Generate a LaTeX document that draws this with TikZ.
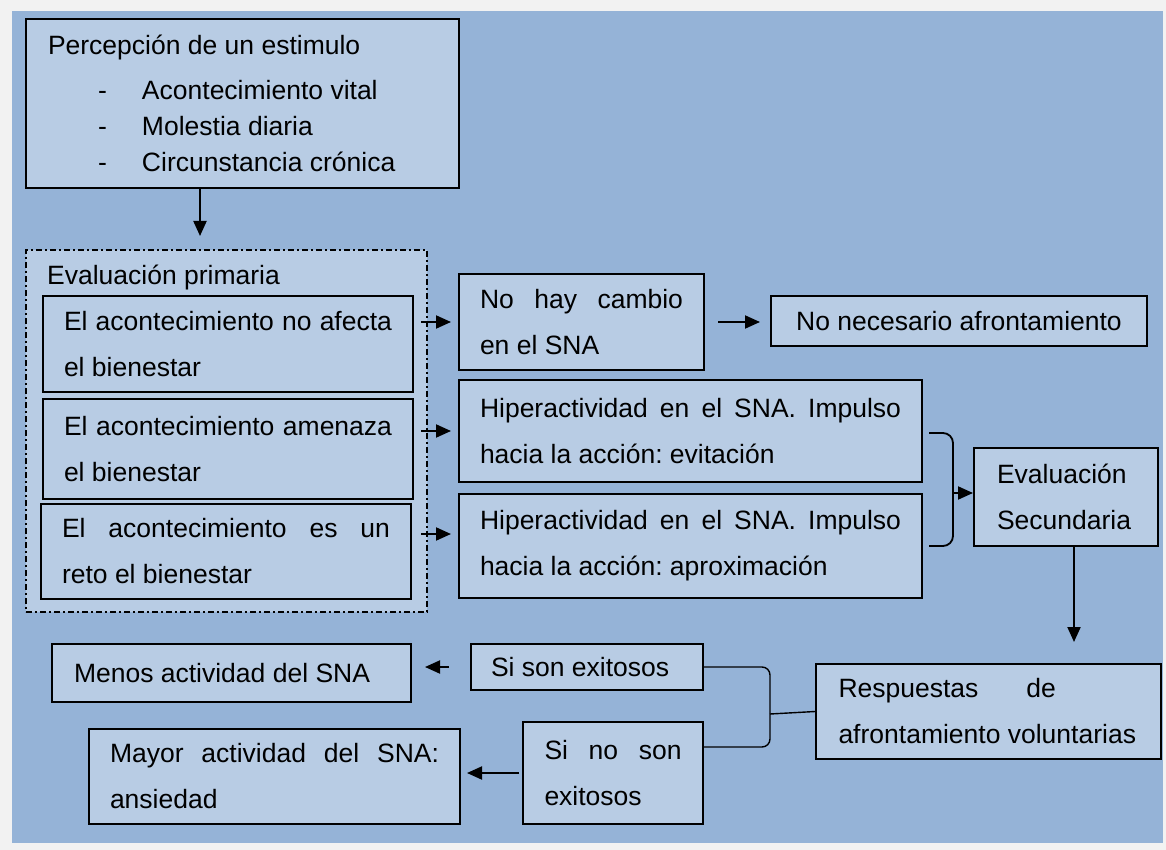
\documentclass[tikz,border=0pt]{standalone}
\usepackage{fontspec}
\setmainfont{Liberation Sans}
\usetikzlibrary{arrows.meta,calc}
\setlength{\parindent}{0pt}

\definecolor{fondoazul}{HTML}{95B3D7}
\definecolor{cajaazul}{HTML}{B8CCE4}
\definecolor{bordegris}{HTML}{F2F2F2}

\newcommand{\jus}[1]{{\spaceskip=0pt\xspaceskip=0pt\makebox[\hsize][s]{#1}}}
\newcommand{\guion}[1]{\makebox[94pt][l]{\hspace*{50pt}-}#1}

\begin{document}
\begin{tikzpicture}[x=1pt,y=-1pt,
	caja/.style={draw, line width=2pt, fill=cajaazul, inner sep=0pt, anchor=north west, align=flush left, font=\fontsize{26.5}{46}\selectfont\frenchspacing},
	grupo/.style={draw, line width=1.5pt, fill=cajaazul, dash pattern=on 6pt off 3pt on 2pt off 3pt, inner sep=0pt, anchor=north west},
	flecha/.style={-{Triangle[length=15pt,width=13pt]}, line width=2pt},
	llave/.style={line width=1.8pt, rounded corners=10pt}]
	\useasboundingbox (0,0) rectangle (1166,850);
	\fill[bordegris] (0,0) rectangle (1166,850);
	\fill[fondoazul] (12,11) rectangle (1163,843);
	
	\node (perc) [caja, minimum width=433pt, minimum height=169pt, text width=389pt, font=\fontsize{26.5}{36}\selectfont] at (25,18) {Percepción de un estimulo\\[9pt]\guion{Acontecimiento vital}\\\guion{Molestia diaria}\\\guion{Circunstancia crónica}};
	
	\node (primaria) [grupo, minimum width=401pt, minimum height=362pt] at (25,249) {};
	\node (tituloprim) [anchor=base west, inner sep=0pt, font=\fontsize{26.5}{46}\selectfont] at (47,284) {Evaluación primaria};
	\node (ev1) [caja, minimum width=370pt, minimum height=96pt, text width=328pt] at (42,295) {\jus{El acontecimiento no afecta}\\el bienestar};
	\node (ev2) [caja, minimum width=370pt, minimum height=100pt, text width=328pt] at (42,398) {\jus{El acontecimiento amenaza}\\el bienestar};
	\node (ev3) [caja, minimum width=370pt, minimum height=95pt, text width=328pt] at (40,503) {\jus{El acontecimiento es un}\\reto el bienestar};
	
	\node (nohay) [caja, minimum width=245pt, minimum height=96pt, text width=203pt] at (458,273) {\jus{No hay cambio}\\en el SNA};
	\node (nonec) [caja, align=center, minimum width=376pt, minimum height=50pt] at (770,295) {No necesario afrontamiento};
	\node (hip1) [caja, minimum width=463pt, minimum height=102pt, text width=421pt] at (458,379) {\jus{Hiperactividad en el SNA. Impulso}\\hacia la acción: evitación};
	\node (hip2) [caja, minimum width=463pt, minimum height=104pt, text width=421pt] at (458,493) {\jus{Hiperactividad en el SNA. Impulso}\\hacia la acción: aproximación};
	\node (eval2) [caja, minimum width=184pt, minimum height=98pt, text width=138pt] at (973,447) {Evaluación\\Secundaria};
	\node (resp) [caja, minimum width=345pt, minimum height=95pt, text width=300pt] at (815,663) {Respuestas\hspace{48pt}de\\afrontamiento voluntarias};
	
	\node (sison) [caja, minimum width=232pt, minimum height=46pt, text width=192pt] at (470,643) {Si son exitosos};
	\node (menos) [caja, minimum width=359pt, minimum height=58pt, text width=315pt] at (51,643) {Menos actividad del SNA};
	\node (sino) [caja, minimum width=180pt, minimum height=102pt, text width=137pt] at (522,721) {\jus{Si no son}\\exitosos};
	\node (mayor) [caja, minimum width=371pt, minimum height=95pt, text width=329pt] at (88,728) {\jus{Mayor actividad del SNA:}\\ansiedad};
	
	\draw[flecha] ($(perc.south west)+(175,0)$) -- ($(primaria.north west)+(175,-13)$);
	\draw[flecha, shorten <=7pt, shorten >=7pt] (ev1.east |- nohay.west) -- (nohay.west);
	\draw[flecha, shorten <=7pt, shorten >=7pt] (ev2.east |- hip1.west) -- (hip1.west);
	\coordinate (m3) at ($(hip2.west)+(0,-12)$);
	\draw[flecha, shorten <=9pt, shorten >=7pt] (ev3.east |- m3) -- (m3);
	\draw[flecha, shorten <=13pt, shorten >=10pt] (nohay.east) -- (nonec.west |- nohay.east);
	
	\coordinate (llave1) at (953,493);
	\draw[llave] ($(hip1.east)+(6,2)$) -| (llave1) |- ($(hip2.east)+(6,0)$);
	\draw[flecha] (llave1) -- (llave1 -| eval2.west);
	
	\coordinate (baja) at ($(eval2.south)+(8,0)$);
	\draw[flecha, shorten >=21pt] (baja) -- (baja |- resp.north);
	
	\coordinate (llave2) at (770,714);
	\draw[llave, line width=1.4pt, rounded corners=8pt] (sison.east) -| (llave2) |- ($(sino.north east)+(0,26)$);
	\draw[line width=1.4pt] (llave2) -- (resp.west);
	
	\draw[flecha, shorten <=21pt, shorten >=13pt] (sison.west) -- (menos.east |- sison.west);
	\draw[flecha, shorten <=3pt, shorten >=6pt] (sino.west) -- (mayor.east |- sino.west);
\end{tikzpicture}
\end{document}
